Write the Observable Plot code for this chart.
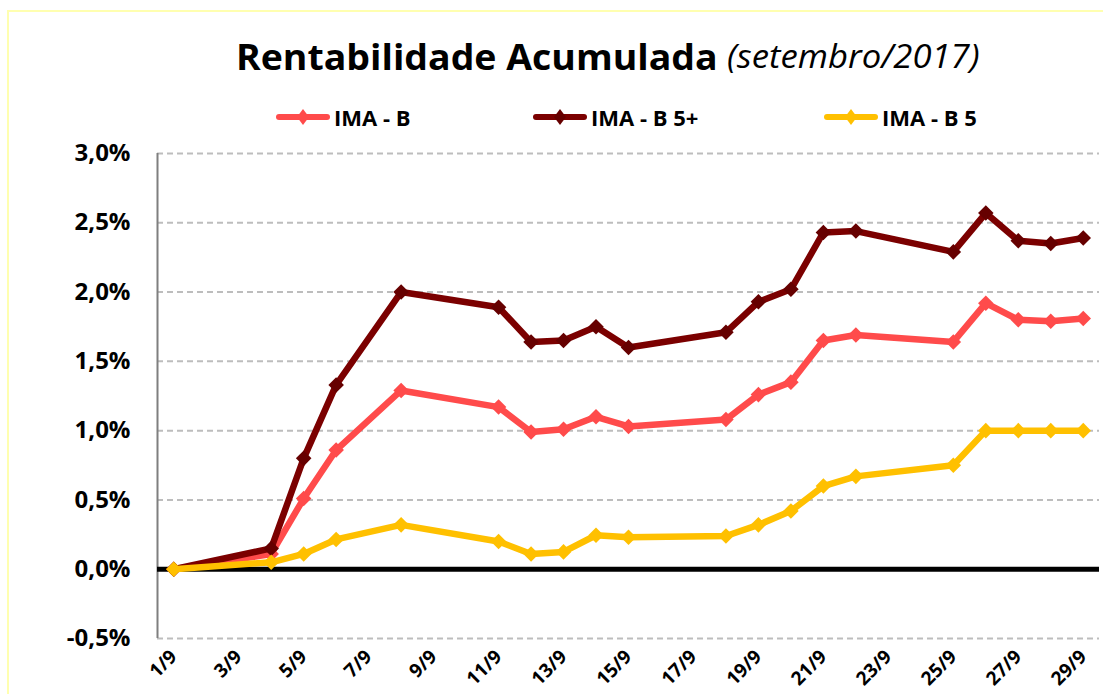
<!DOCTYPE html>
<html>
<head>
<meta charset="utf-8">
<script src="https://cdn.jsdelivr.net/npm/d3@7"></script>
<script src="https://cdn.jsdelivr.net/npm/@observablehq/plot@0.6"></script>
<style>
  html, body { margin: 0; padding: 0; background: #fff; overflow: hidden; }
  #wrap { position: relative; width: 1103px; height: 694px; overflow: hidden; font-family: "Open Sans", sans-serif; }
  #frame { position: absolute; left: 7px; top: 10px; width: 1300px; height: 900px; border: 2px solid #FFFFB0; box-sizing: border-box; }
  #header { position: relative; height: 135px; }
  .t { position: absolute; white-space: nowrap; transform-origin: left top; }
  #title1 { left: 236px; top: 33px; font-size: 35px; font-weight: 700; color: #000; transform: scaleX(1.07); }
  #title2 { left: 727px; top: 33px; font-size: 33px; font-style: italic; color: #000; transform: scaleX(1.05); }
  .leg { position: absolute; top: 104px; height: 26px; display: flex; align-items: center; }
  .leg span { font-size: 22px; font-weight: 700; color: #000; margin-left: 4px; }
  #chart { position: absolute; left: 0; top: 135px; }
</style>
</head>
<body>
<div id="wrap">
  <div id="frame"></div>
  <div id="header">
    <div class="t" id="title1">Rentabilidade Acumulada</div>
    <div class="t" id="title2">(setembro/2017)</div>
    <div id="legend"></div>
  </div>
  <div id="chart"></div>
</div>
<script>
// ---- data ----
const days = [1, 4, 5, 6, 8, 11, 12, 13, 14, 15, 18, 19, 20, 21, 22, 25, 26, 27, 28, 29];
const imaB      = [0, 0.11, 0.51, 0.86, 1.29, 1.17, 0.99, 1.01, 1.10, 1.03, 1.08, 1.26, 1.35, 1.65, 1.69, 1.64, 1.92, 1.80, 1.79, 1.81];
const imaB5plus = [0, 0.15, 0.80, 1.33, 2.00, 1.89, 1.64, 1.65, 1.75, 1.60, 1.71, 1.93, 2.02, 2.43, 2.44, 2.29, 2.57, 2.37, 2.35, 2.39];
const imaB5     = [0, 0.05, 0.11, 0.215, 0.32, 0.20, 0.11, 0.125, 0.245, 0.23, 0.24, 0.32, 0.42, 0.60, 0.67, 0.75, 1.00, 1.00, 1.00, 1.00];
const seriesNames = ["IMA - B", "IMA - B 5+", "IMA - B 5"];
const seriesColors = ["#FF4B4B", "#7B0000", "#FFC000"];
const markerColors = ["#FF4B4B", "#660000", "#FFC000"];
const xTicks = [1, 3, 5, 7, 9, 11, 13, 15, 17, 19, 21, 23, 25, 27, 29];
const yTicks = [-0.5, 0, 0.5, 1.0, 1.5, 2.0, 2.5, 3.0];

const seriesValues = [imaB, imaB5plus, imaB5];
const tables = seriesValues.map((vals, i) => days.map((d, j) => ({day: d, value: vals[j], series: seriesNames[i]})));

// ---- legend ----
const legendX = [276, 533, 824];
const legend = document.getElementById("legend");
seriesNames.forEach((name, i) => {
  const item = document.createElement("div");
  item.className = "leg";
  item.style.left = legendX[i] + "px";
  item.innerHTML = `<svg width="54" height="26"><line x1="3" y1="13" x2="51" y2="13" stroke="${seriesColors[i]}" stroke-width="6" stroke-linecap="round"/><path d="M27,5 L33,13 L27,21 L21,13 Z" fill="${markerColors[i]}"/></svg><span>${name}</span>`;
  legend.appendChild(item);
});

// ---- chart ----
const marks = [
  Plot.gridY(yTicks, {stroke: "#BDBDBD", strokeOpacity: 1, strokeWidth: 2, strokeDasharray: "6,4"}),
  Plot.ruleX([0.5], {y1: -0.5, y2: 3.0, stroke: "#7F7F7F", strokeWidth: 2}),
  Plot.ruleY([0], {stroke: "#000", strokeWidth: 5}),
  Plot.axisY(yTicks, {label: null, tickSize: 0, tickPadding: 27, tickFormat: d => d.toFixed(1).replace(".", ",") + "%", fontSize: 24, fontWeight: "bold", fill: "#000"}),
  Plot.axisX(xTicks, {label: null, tickSize: 0, tickPadding: 15, tickRotate: -45, tickFormat: d => d + "/9", fontSize: 19, fontWeight: "bold", fill: "#000"})
];
tables.forEach((t, i) => {
  marks.push(Plot.line(t, {x: "day", y: "value", stroke: seriesColors[i], strokeWidth: 6.5, strokeLinejoin: "round", strokeLinecap: "round"}));
  marks.push(Plot.dot(t, {x: "day", y: "value", symbol: "diamond2", r: 7, fill: markerColors[i], stroke: "none"}));
});

const chart = Plot.plot({
  width: 1103,
  height: 559,
  marginTop: 18,
  marginBottom: 56,
  marginLeft: 157,
  marginRight: 4,
  style: {fontFamily: "Open Sans, sans-serif", background: "transparent", color: "#000"},
  x: {type: "linear", domain: [0.5, 29.5], axis: null},
  y: {type: "linear", domain: [-0.5, 3.0], axis: null},
  marks
});
document.getElementById("chart").appendChild(chart);
</script>
</body>
</html>
